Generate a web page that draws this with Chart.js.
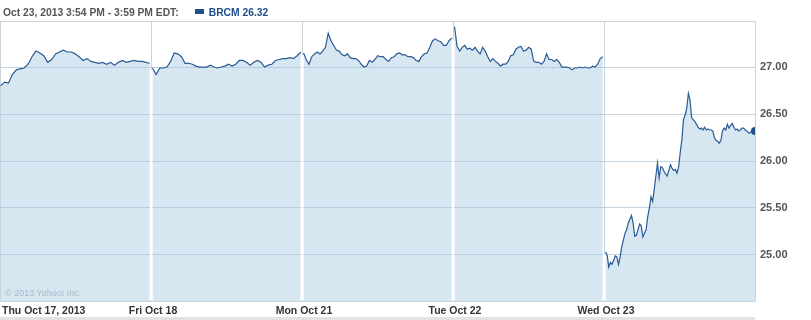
<!DOCTYPE html>
<html>
<head>
<meta charset="utf-8">
<script src="https://cdn.jsdelivr.net/npm/chart.js@4.4.0/dist/chart.umd.min.js"></script>
<style>
  body { margin: 0; background: #fff; }
  #wrap { position: relative; width: 811px; height: 320px; }
  #head { position: absolute; left: 3px; top: 7px; font: bold 10.3px "Liberation Sans", Arial, sans-serif; color: #555; white-space: nowrap; }
  #head .sym { color: #1f4f8a; margin-left: 16px; }
  #head .box { display: inline-block; width: 9px; height: 5px; background: #1f4f8a; margin-right: 5px; vertical-align: 2px; }
  #copy { position: absolute; left: 5px; top: 288px; font: 9px "Liberation Sans", Arial, sans-serif; color: #a9bac7; }
  #band { position: absolute; left: 0; top: 317px; width: 755px; height: 3px; background: #e2e2e2; }
</style>
</head>
<body>
<div id="wrap">
  <canvas id="brcmChart" width="811" height="320"></canvas>
  <div id="head">Oct 23, 2013 3:54 PM - 3:59 PM EDT:<span class="sym"><span class="box"></span>BRCM 26.32</span></div>
  <div id="copy">© 2013 Yahoo! Inc.</div>
  <div id="band"></div>
</div>
<script>
// BRCM intraday prices, one array per trading day
const dayLabels = ['Thu Oct 17, 2013', 'Fri Oct 18', 'Mon Oct 21', 'Tue Oct 22', 'Wed Oct 23'];
const yTicks = [25.00, 25.50, 26.00, 26.50, 27.00];

const thu17 = [26.80, 26.84, 26.83, 26.92, 26.97, 26.98, 26.99, 27.03, 27.11, 27.17, 27.15, 27.12, 27.05,
  27.08, 27.14, 27.16, 27.18, 27.16, 27.16, 27.14, 27.11, 27.07, 27.09, 27.06, 27.05, 27.04, 27.05,
  27.03, 27.05, 27.02, 27.05, 27.07, 27.05, 27.06, 27.07, 27.06, 27.06, 27.05, 27.04];
const fri18 = [26.99, 26.92, 26.99, 26.99, 27.00, 27.06, 27.15, 27.14, 27.11, 27.04, 27.04, 27.03, 27.01,
  27.00, 27.00, 27.00, 27.02, 27.00, 26.99, 27.00, 27.01, 27.03, 27.01, 27.03, 27.07, 27.07, 27.05,
  27.02, 27.05, 27.07, 27.05, 27.00, 27.02, 27.03, 27.07, 27.08, 27.09, 27.09, 27.10, 27.09, 27.12, 27.16];
const mon21 = [27.15, 27.08, 27.03, 27.11, 27.14, 27.16, 27.14, 27.17, 27.21, 27.36, 27.28, 27.23, 27.18,
  27.17, 27.13, 27.12, 27.14, 27.10, 27.09, 27.09, 27.07, 27.03, 27.00, 27.01, 27.07, 27.05, 27.08,
  27.12, 27.11, 27.11, 27.08, 27.06, 27.10, 27.11, 27.14, 27.15, 27.13, 27.13, 27.11, 27.11, 27.10,
  27.07, 27.06, 27.11, 27.14, 27.15, 27.21, 27.28, 27.30, 27.28, 27.27, 27.23, 27.23, 27.28, 27.31];
const tue22 = [27.43, 27.22, 27.17, 27.21, 27.23, 27.19, 27.20, 27.18, 27.21, 27.17, 27.14, 27.21, 27.17,
  27.11, 27.06, 27.09, 27.06, 27.04, 27.01, 27.03, 27.03, 27.06, 27.12, 27.13, 27.19, 27.21, 27.22,
  27.17, 27.18, 27.21, 27.19, 27.06, 27.05, 27.05, 27.03, 27.06, 27.14, 27.08, 27.08, 27.06, 27.08,
  27.05, 27.00, 27.00, 27.00, 26.99, 26.97, 26.99, 26.99, 27.00, 26.99, 27.00, 26.99, 26.99, 27.01,
  27.00, 27.03, 27.09, 27.11];
const wed23 = [25.03, 25.00, 24.87, 24.92, 24.90, 24.94, 24.99, 24.98, 24.90, 24.98, 25.09, 25.16, 25.23,
  25.27, 25.34, 25.38, 25.42, 25.34, 25.20, 25.21, 25.27, 25.33, 25.31, 25.19, 25.23, 25.27, 25.41,
  25.50, 25.62, 25.57, 25.70, 25.84, 25.98, 25.82, 25.94, 25.93, 25.89, 25.86, 25.84, 25.90, 25.96,
  25.92, 25.90, 25.91, 25.87, 25.94, 26.09, 26.23, 26.44, 26.49, 26.56, 26.72, 26.65, 26.46, 26.44,
  26.42, 26.39, 26.36, 26.34, 26.35, 26.33, 26.36, 26.33, 26.34, 26.33, 26.33, 26.32, 26.25, 26.22,
  26.21, 26.19, 26.22, 26.32, 26.35, 26.33, 26.39, 26.35, 26.38, 26.40, 26.36, 26.33, 26.34, 26.32,
  26.33, 26.35, 26.35, 26.33, 26.32, 26.30, 26.30, 26.32, 26.33, 26.32];

const days = [thu17, fri18, mon21, tue22, wed23];

// x is measured in trading days; a null between days breaks line and fill
const points = [];
days.forEach((prices, d) => {
    const start = d === 0 ? 0.004 : 0.01;
    const end = d === days.length - 1 ? 1 : 0.992;
    prices.forEach((p, i) => {
        points.push({ x: d + start + i * (end - start) / (prices.length - 1), y: p });
    });
    points.push({ x: d + 0.996, y: null });
});
// marker on the latest quote (the trailing null keeps the layout from padding for it)
const lastIdx = points.length - 2;
const radii = points.map((p, i) => (i === lastIdx ? 4 : 0));

// top frame line, and the white seam at each day break inside the fill
const frameLines = {
    id: 'frameLines',
    beforeDatasetsDraw(chart) {
        const { ctx, chartArea } = chart;
        ctx.save();
        ctx.strokeStyle = '#c9d3dc';
        ctx.lineWidth = 1;
        ctx.beginPath();
        ctx.moveTo(0, Math.round(chartArea.top) + 0.5);
        ctx.lineTo(chartArea.right, Math.round(chartArea.top) + 0.5);
        ctx.stroke();
        ctx.restore();
    },
    afterDatasetsDraw(chart) {
        const { ctx, chartArea, scales } = chart;
        ctx.save();
        ctx.strokeStyle = '#ffffff';
        ctx.lineWidth = 2;
        for (let d = 1; d < days.length; d++) {
            const x = Math.round(scales.x.getPixelForValue(d));
            const yTop = Math.max(scales.y.getPixelForValue(days[d - 1][days[d - 1].length - 1]),
                scales.y.getPixelForValue(days[d][0])) + 2;
            ctx.beginPath();
            ctx.moveTo(x, yTop);
            ctx.lineTo(x, chartArea.bottom - 1);
            ctx.stroke();
        }
        ctx.restore();
    }
};

const ctx = document.getElementById('brcmChart').getContext('2d');
const brcmChart = new Chart(ctx, {
    type: 'line',
    data: {
        datasets: [{
            label: 'BRCM',
            data: points,
            borderColor: '#2a5b94',
            borderWidth: 1.2,
            backgroundColor: 'rgba(160, 198, 224, 0.42)',
            fill: 'start',
            pointRadius: radii,
            pointHoverRadius: radii,
            pointBackgroundColor: '#1f4f8a',
            pointBorderWidth: 0,
            tension: 0,
            spanGaps: false
        }]
    },
    options: {
        responsive: false,
        animation: false,
        devicePixelRatio: 1,
        layout: { padding: { top: 21, left: 0, right: 0, bottom: 0 } },
        plugins: {
            legend: { display: false },
            tooltip: { enabled: false }
        },
        scales: {
            x: {
                type: 'linear',
                min: 0,
                max: days.length,
                afterBuildTicks: (axis) => {
                    axis.ticks = [0, 1, 2, 3, 4, 5].map(v => ({ value: v }));
                },
                afterFit: (axis) => {
                    axis.height = 19;
                    axis.paddingLeft = 0;
                    axis.paddingRight = 0;
                },
                ticks: {
                    autoSkip: false,
                    maxRotation: 0,
                    align: 'inner',
                    padding: 4,
                    labelOffset: 2,
                    color: '#333',
                    font: { family: '"Liberation Sans", Arial, sans-serif', size: 10.5, weight: 'bold' },
                    callback: (v) => dayLabels[Math.round(v)] || ''
                },
                grid: { color: '#c9d3dc', drawTicks: false },
                border: { color: '#c9d3dc' }
            },
            y: {
                position: 'right',
                min: 24.51,
                max: 27.49,
                afterBuildTicks: (axis) => {
                    axis.ticks = yTicks.map(v => ({ value: v }));
                },
                afterFit: (axis) => { axis.width = 56; },
                ticks: {
                    padding: 5,
                    color: '#555',
                    font: { family: '"Liberation Sans", Arial, sans-serif', size: 11, weight: 'bold' },
                    callback: (v) => v.toFixed(2)
                },
                grid: { color: '#c3d3df', drawTicks: false },
                border: { color: '#c9d3dc' }
            }
        }
    },
    plugins: [frameLines]
});
</script>
</body>
</html>
